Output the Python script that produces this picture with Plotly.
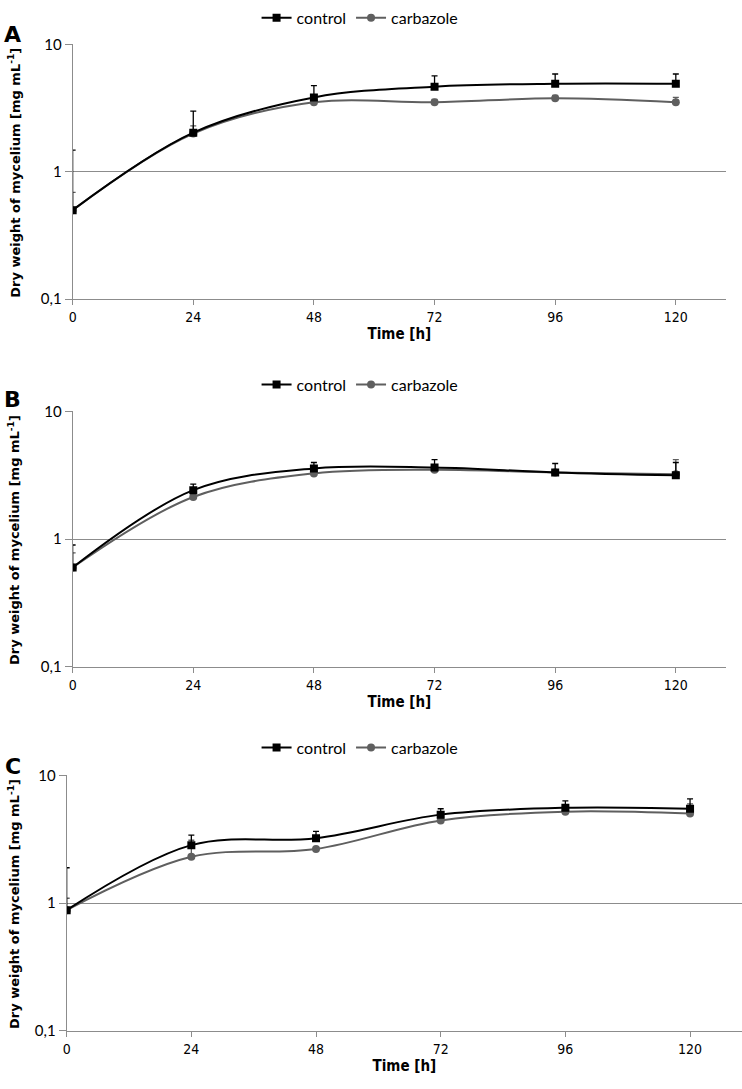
import plotly.graph_objects as go

time_h = [0, 24, 48, 72, 96, 120]
x_ticks = [0, 24, 48, 72, 96, 120]
y_tickvals = [0.1, 1, 10]
y_ticktext = ["0,1", "1", "10"]
series_names = ["control", "carbazole"]
panel_labels = ["A", "B", "C"]

# Panel A
control_A = [0.50, 2.03, 3.84, 4.67, 4.92, 4.92]
control_A_err = [0.98, 0.97, 0.91, 1.00, 0.95, 0.95]
carbazole_A = [0.50, 2.00, 3.52, 3.52, 3.78, 3.52]
carbazole_A_err = [0.19, 0.30, 0.10, 0.18, 0.20, 0.32]

# Panel B
control_B = [0.60, 2.42, 3.58, 3.64, 3.33, 3.16]
control_B_err = [0.30, 0.28, 0.40, 0.55, 0.58, 0.82]
carbazole_B = [0.60, 2.14, 3.27, 3.50, 3.33, 3.22]
carbazole_B_err = [0.18, 0.10, 0.10, 0.12, 0.10, 0.98]

# Panel C
control_C = [0.88, 2.84, 3.22, 4.92, 5.57, 5.47]
control_C_err = [1.01, 0.56, 0.42, 0.55, 0.74, 1.07]
carbazole_C = [0.88, 2.30, 2.65, 4.43, 5.19, 5.01]
carbazole_C_err = [0.21, 0.80, 0.10, 0.15, 0.15, 0.97]

W, H = 742, 1089
def px_x(p):
    return p / W
def px_y(p):
    return 1 - p / H

panels = [
    dict(ctrl=control_A, ce=control_A_err, carb=carbazole_A, ke=carbazole_A_err,
         x0=69, x1=726, top=35, bot=294, leg_y=8, lab_y=25),
    dict(ctrl=control_B, ce=control_B_err, carb=carbazole_B, ke=carbazole_B_err,
         x0=69, x1=726, top=408, bot=668, leg_y=381, lab_y=396),
    dict(ctrl=control_C, ce=control_C_err, carb=carbazole_C, ke=carbazole_C_err,
         x0=63, x1=742, top=778, bot=1038, leg_y=750, lab_y=769),
]

BLACK = "#000000"
GRAY = "#5f5f5f"
AXIS = "#8c8c8c"
NARROW = "DejaVu Sans Condensed, Liberation Sans Narrow, sans-serif"

fig = go.Figure()
layout = dict(
    width=W, height=H, margin=dict(l=0, r=0, t=0, b=0),
    paper_bgcolor="white", plot_bgcolor="white", showlegend=True,
    annotations=[],
)

for i, p in enumerate(panels):
    n = "" if i == 0 else str(i + 1)
    xa, ya = "x" + n, "y" + n
    leg = "legend" + n
    fig.add_trace(go.Scatter(
        x=time_h, y=p["carb"], name=series_names[1], mode="lines+markers",
        line=dict(color=GRAY, width=2, shape="spline"),
        marker=dict(symbol="circle", size=8, color=GRAY),
        error_y=dict(type="data", symmetric=False, array=p["ke"],
                     arrayminus=[0] * len(time_h), color=GRAY, thickness=1.3, width=3),
        xaxis=xa, yaxis=ya, legend=leg, legendrank=2,
    ))
    fig.add_trace(go.Scatter(
        x=time_h, y=p["ctrl"], name=series_names[0], mode="lines+markers",
        line=dict(color=BLACK, width=2, shape="spline"),
        marker=dict(symbol="square", size=8, color=BLACK),
        error_y=dict(type="data", symmetric=False, array=p["ce"],
                     arrayminus=[0] * len(time_h), color=BLACK, thickness=1.3, width=3),
        xaxis=xa, yaxis=ya, legend=leg, legendrank=1,
    ))
    layout["xaxis" + n] = dict(
        domain=[px_x(p["x0"]), px_x(p["x1"])], anchor=ya, range=[0, 130],
        tickvals=x_ticks, ticktext=[str(v) for v in x_ticks],
        showgrid=False, zeroline=False, showline=True, linecolor=AXIS, linewidth=1,
        ticks="outside", ticklen=5, tickcolor=AXIS,
        tickfont=dict(family=NARROW, size=14, color="#000"),
        title=dict(text="<b>Time [h]</b>", standoff=4,
                   font=dict(family=NARROW, size=15, color="#000")),
    )
    layout["yaxis" + n] = dict(
        domain=[px_y(p["bot"]), px_y(p["top"])], anchor=xa, type="log", range=[-1, 1.001],
        tickvals=y_tickvals, ticktext=y_ticktext,
        showgrid=True, gridcolor=AXIS, gridwidth=1, zeroline=False,
        showline=True, linecolor=AXIS, linewidth=1,
        ticks="outside", ticklen=7, tickcolor=AXIS,
        tickfont=dict(family="Lato, sans-serif", size=15, color="#000"),
    )
    layout[leg] = dict(
        orientation="h", x=px_x(358), xanchor="center", y=px_y(p["leg_y"]), yanchor="middle",
        font=dict(family="Lato, sans-serif", size=16, color="#000"),
        itemwidth=30, bgcolor="rgba(0,0,0,0)", traceorder="normal",
        tracegroupgap=0,
    )
    layout["annotations"].append(dict(
        text="<b>" + panel_labels[i] + "</b>", x=px_x(9), y=px_y(p["lab_y"]),
        xref="paper", yref="paper", xanchor="center", yanchor="middle", showarrow=False,
        font=dict(family="DejaVu Sans, sans-serif", size=22, color="#000"),
    ))
    layout["annotations"].append(dict(
        text="<b>Dry weight of mycelium [mg mL<sup>-1</sup>]</b>",
        x=px_x(10), y=px_y((p["top"] + p["bot"]) / 2 + 1), textangle=-90,
        xref="paper", yref="paper", xanchor="center", yanchor="middle", showarrow=False,
        font=dict(family="DejaVu Sans, sans-serif", size=13, color="#000"),
    ))

fig.update_layout(**layout)
fig.write_html(
    "out.html",
    config={"displayModeBar": False},
    post_script="document.body.style.margin='0';document.body.style.padding='0';document.body.style.overflow='hidden';",
)
